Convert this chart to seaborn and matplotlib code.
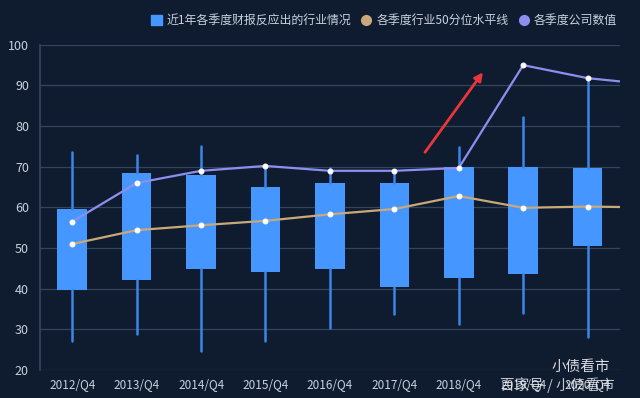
import matplotlib
matplotlib.use("Agg")
import matplotlib.pyplot as plt
import numpy as np
import pandas as pd
import seaborn as sns
from matplotlib.lines import Line2D
from matplotlib.patches import Patch

# valores
trimestres = ["2012/Q4", "2013/Q4", "2014/Q4", "2015/Q4", "2016/Q4",
              "2017/Q4", "2018/Q4", "2019/Q4", "2020/Q4"]
bigode_max = [73.7, 72.9, 75.0, 70.2, 69.6, 69.2, 74.9, 82.3, 91.9]
caixa_topo = [59.6, 68.5, 68.0, 65.0, 66.0, 66.0, 70.0, 70.0, 69.7]
caixa_base = [39.7, 42.2, 44.9, 44.1, 44.9, 40.4, 42.6, 43.6, 50.5]
bigode_min = [27.1, 28.9, 24.7, 27.1, 30.3, 33.8, 31.3, 34.0, 28.1]
# a linha continua alem do ultimo rotulo (ponto cortado na borda)
valor_empresa = [56.5, 66.0, 69.0, 70.2, 69.0, 69.0, 69.7, 95.0, 91.8, 90.2]
mediana_setor = [51.0, 54.4, 55.6, 56.7, 58.3, 59.6, 62.8, 59.9, 60.2, 60.0]

FUNDO = "#0f1c30"
GRADE = "#34445a"
TEXTO = "#c9d1dc"
AZUL = "#4596ff"
AZUL_LINHA = "#3b86ea"
LILAS = "#8d8ff0"
BEGE = "#c9a87a"

sns.set_theme(style="dark")
plt.rcParams["font.family"] = ["Noto Sans CJK SC", "DejaVu Sans"]

fig = plt.figure(figsize=(6.4, 3.98), dpi=100, facecolor=FUNDO)
ax = fig.add_axes([0.0625, 0.0704, 0.906, 0.817], facecolor=FUNDO)

stats = [
    {"whislo": lo, "q1": q1, "med": q1, "q3": q3, "whishi": hi, "label": t}
    for t, lo, q1, q3, hi in zip(trimestres, bigode_min, caixa_base, caixa_topo, bigode_max)
]
ax.bxp(stats, positions=range(len(trimestres)), widths=0.46, patch_artist=True,
       showfliers=False, showcaps=False,
       boxprops=dict(facecolor=AZUL, edgecolor=AZUL, linewidth=0),
       whiskerprops=dict(color=AZUL_LINHA, linewidth=1.8),
       medianprops=dict(linewidth=0), zorder=2)

df = pd.DataFrame({
    "x": np.arange(len(valor_empresa)),
    "empresa": valor_empresa,
    "mediana": mediana_setor,
})
sns.lineplot(data=df, x="x", y="mediana", ax=ax, color=BEGE, linewidth=1.6,
             marker="o", markersize=3.5, markerfacecolor="white",
             markeredgecolor="white", zorder=3)
sns.lineplot(data=df, x="x", y="empresa", ax=ax, color=LILAS, linewidth=1.6,
             marker="o", markersize=3.5, markerfacecolor="white",
             markeredgecolor="white", zorder=4)

ax.set_xlim(-0.5, len(trimestres) - 0.5)
ax.set_ylim(20, 100)
ax.set_yticks(range(20, 101, 10))
ax.set_xticks(range(len(trimestres)))
ax.set_xticklabels(trimestres)
ax.set_xlabel("")
ax.set_ylabel("")
ax.grid(axis="y", color=GRADE, linewidth=0.9)
ax.grid(axis="x", visible=False)
for lado in ["top", "right", "bottom"]:
    ax.spines[lado].set_visible(False)
ax.spines["left"].set_color(GRADE)
ax.tick_params(axis="y", colors=TEXTO, labelsize=9, length=4, color=GRADE, pad=4)
ax.tick_params(axis="x", colors=TEXTO, labelsize=8.5, length=0, pad=6)

# seta vermelha
ax.annotate("", xy=(6.4, 93.8), xytext=(5.45, 73.0),
            arrowprops=dict(arrowstyle="-|>", color="#e8363a", lw=2,
                            mutation_scale=12), zorder=6)

handles = [
    Patch(facecolor=AZUL, edgecolor=AZUL, label="近1年各季度财报反应出的行业情况"),
    Line2D([], [], marker="o", linestyle="", markersize=7, color=BEGE,
           label="各季度行业50分位水平线"),
    Line2D([], [], marker="o", linestyle="", markersize=7, color=LILAS,
           label="各季度公司数值"),
]
leg = fig.legend(handles=handles, loc="center", bbox_to_anchor=(0.6, 0.948),
                 ncol=3, frameon=False, fontsize=8.6, handlelength=0.9,
                 handleheight=0.9, handletextpad=0.4, columnspacing=0.8)
for t in leg.get_texts():
    t.set_color(TEXTO)

# marca d'agua
fig.text(0.862, 0.078, "小债看市", color="white", alpha=0.85, fontsize=10.5,
         ha="left", va="center")
fig.text(0.782, 0.032, "百家号 / 小债看市", color="white", alpha=0.75, fontsize=10.5,
         ha="left", va="center")

fig.savefig("out.png", dpi=100, facecolor=FUNDO)
